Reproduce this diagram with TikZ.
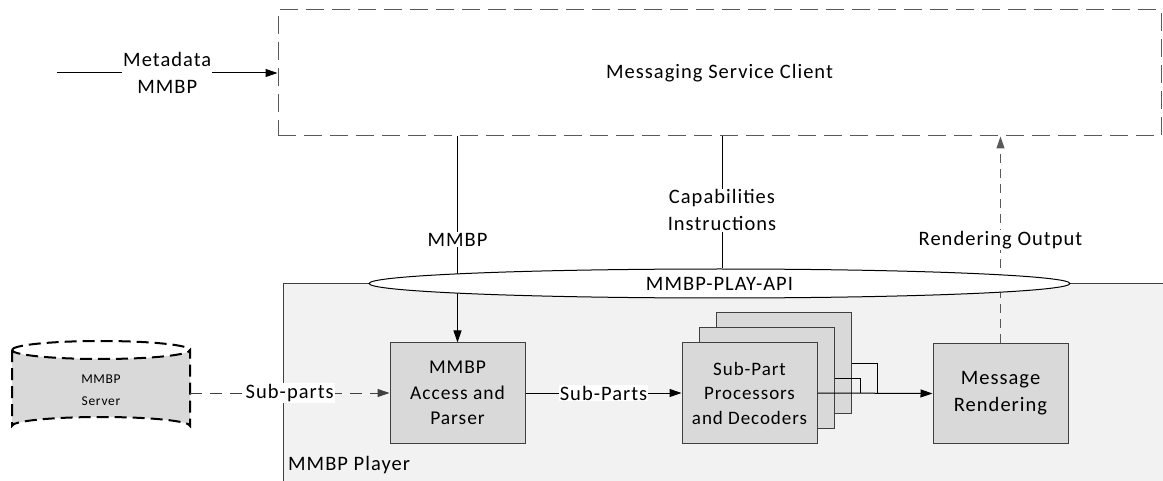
\documentclass[tikz,border=0pt]{standalone}
\usepackage{fontspec}
\setmainfont{Carlito}[LetterSpace=5]
\usetikzlibrary{shapes.geometric,arrows.meta}
\pgfdeclarelayer{back}
\pgfdeclarelayer{mid}
\pgfsetlayers{back,mid,main}
\definecolor{boxfill}{HTML}{D9D9D9}
\definecolor{playfill}{HTML}{F2F2F2}
\definecolor{edge}{HTML}{404040}
\definecolor{dash}{HTML}{595959}
\tikzset{
  box/.style={draw=edge,fill=boxfill,line width=1pt,minimum width=135pt,minimum height=100pt,inner sep=0pt,align=center,font=\fontsize{19.5}{25.5}\selectfont},
  lbl/.style={fill=white,inner sep=1pt,align=center,font=\fontsize{20.5}{26.5}\selectfont},
  tip/.style={-{Triangle[length=12pt,width=8pt]}},
  arr/.style={line width=1pt,tip},
  ln/.style={line width=1pt},
  dline/.style={line width=1pt,draw=dash,dash pattern=on 9pt off 6pt},
}
\begin{document}
\begin{tikzpicture}[x=1pt,y=-1pt]
\useasboundingbox (0,0) rectangle (1163,481);
% player region
\begin{pgfonlayer}{back}
\fill[playfill] (283,284) rectangle (1175,495);
\draw[edge,line width=1pt] (283,495) -- (283,284) -- (1175,284);
\end{pgfonlayer}
\node[anchor=west,font=\fontsize{20.5}{24}\selectfont,inner sep=0pt] (plbl) at (288,465) {MMBP Player};
% top dashed box
\node[draw=dash,line width=1pt,dash pattern=on 18pt off 8pt,minimum width=883pt,minimum height=126pt,inner sep=0pt,font=\fontsize{20.5}{24}\selectfont] (msc) at (719.5,73) {Messaging Service Client};
% server cylinder
\draw[line width=2pt,dash pattern=on 12pt off 6pt,fill=boxfill] (12,350) -- (12,426) arc[start angle=180,end angle=360,x radius=89,y radius=9] -- (190,350) arc[start angle=0,end angle=180,x radius=89,y radius=9] -- cycle;
\draw[line width=2pt,dash pattern=on 12pt off 6pt] (12,350) arc[start angle=180,end angle=360,x radius=89,y radius=9];
\node[align=center,font=\fontsize{13.5}{22}\selectfont,inner sep=0pt] (srv) at (101,390) {MMBP\\Server};
\coordinate (srvE) at (190,393);
% boxes
\node[box] (acc) at (457.5,393) {MMBP\\Access and\\Parser};
\node[box] (p3) at (783.5,363) {};
\node[box] (p2) at (766.5,378) {};
\node[box,font=\fontsize{19}{24.5}\selectfont] (p1) at (749.5,393) {Sub-Part\\Processors\\and Decoders};
\node[box,font=\fontsize{20.5}{27}\selectfont] (mr) at (1000.5,393.5) {Message\\Rendering};
% api ellipse
\node[ellipse,draw=black,fill=white,line width=1pt,minimum width=701pt,minimum height=29pt,inner sep=0pt,font=\fontsize{20.5}{24}\selectfont] (api) at (719.5,283.5) {MMBP-PLAY-API};
% connectors
\coordinate (mstart) at (57,73);
\draw[arr] (mstart) -- node[lbl]{Metadata\\MMBP} (msc.west);
\begin{pgfonlayer}{mid}
\draw[arr] (msc.south -| acc.north) -- node[lbl,pos=0.502]{MMBP} (acc.north);
\draw[dline,tip] (mr.north) -- node[lbl,solid]{Rendering Output} (mr.north |- msc.south);
\end{pgfonlayer}
\coordinate (capTop) at (722,136);
\draw[ln] (capTop) -- node[lbl,pos=0.56]{Capabilities\\Instructions} (api.north -| capTop);
\draw[line width=1pt,draw=edge,dash pattern=on 12pt off 8pt,tip] (srvE) -- node[lbl]{Sub-parts} (acc.west);
\draw[arr] (acc.east) -- node[lbl]{Sub-Parts} (p1.west);
\coordinate (j2) at (860,393);
\coordinate (j3) at (877,393);
\draw[ln] (p2.east) -| (j2);
\draw[ln] (p3.east) -| (j3);
\draw[arr] (p1.east) -- (mr.west);
\end{tikzpicture}
\end{document}
